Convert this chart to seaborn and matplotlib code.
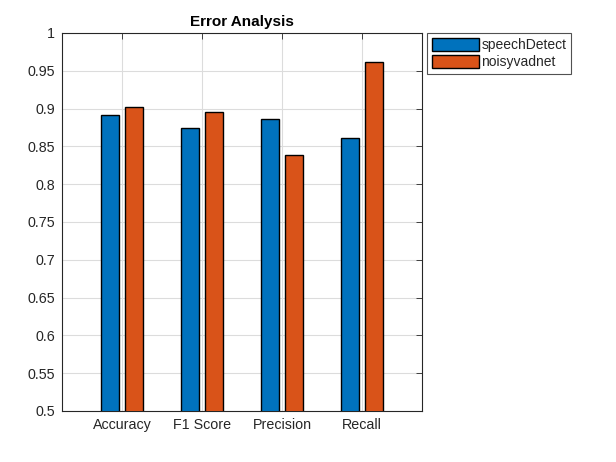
import matplotlib
matplotlib.use('Agg')
import matplotlib.pyplot as plt
import numpy as np
import pandas as pd
import seaborn as sns

metrics = ['Accuracy', 'F1 Score', 'Precision', 'Recall']
speech_detect = [0.892, 0.874, 0.886, 0.861]
noisyvadnet = [0.902, 0.896, 0.838, 0.962]
models = ['speechDetect', 'noisyvadnet']
colors = ['#0072BD', '#D95319']

df = pd.DataFrame({
    'metric': metrics * 2,
    'value': speech_detect + noisyvadnet,
    'model': [models[0]] * 4 + [models[1]] * 4,
})

sns.set_style('white')
plt.rcParams['font.family'] = ['Liberation Sans', 'DejaVu Sans']

fig = plt.figure(figsize=(6.16, 4.62), dpi=100)
ax = fig.add_axes([0.1006, 0.1104, 0.5844, 0.8182])

sns.barplot(data=df, x='metric', y='value', hue='model', palette=colors,
            saturation=1, width=0.6, gap=0.24, edgecolor='black', linewidth=1,
            ax=ax, zorder=3)

ax.set_xlim(-0.75, 3.75)
ax.set_ylim(0.5, 1)
yt = np.arange(0.5, 1.001, 0.05)
ax.set_yticks(yt)
ax.set_yticklabels(['%g' % round(v, 2) for v in yt])
ax.set_xlabel('')
ax.set_ylabel('')
ax.set_title('Error Analysis', fontsize=11, fontweight='bold', color='black', pad=5)
ax.grid(True, color='#dcdcdc', linewidth=0.8, zorder=0)
ax.set_axisbelow(True)
ax.tick_params(direction='in', length=4, width=0.6, top=True, right=True,
               labelsize=10.3, colors='#262626', pad=5)
for s in ax.spines.values():
    s.set_color('#262626')
    s.set_linewidth(0.8)

leg = ax.legend(loc='upper left', bbox_to_anchor=(1.015, 1.0), frameon=True,
                fontsize=10, borderaxespad=0, handlelength=3.4, handleheight=1.1,
                handletextpad=0.15, borderpad=0.35, labelspacing=0.2, fancybox=False)
leg.get_frame().set_edgecolor('#262626')
leg.get_frame().set_linewidth(0.8)

plt.savefig('out.png', dpi=100)
